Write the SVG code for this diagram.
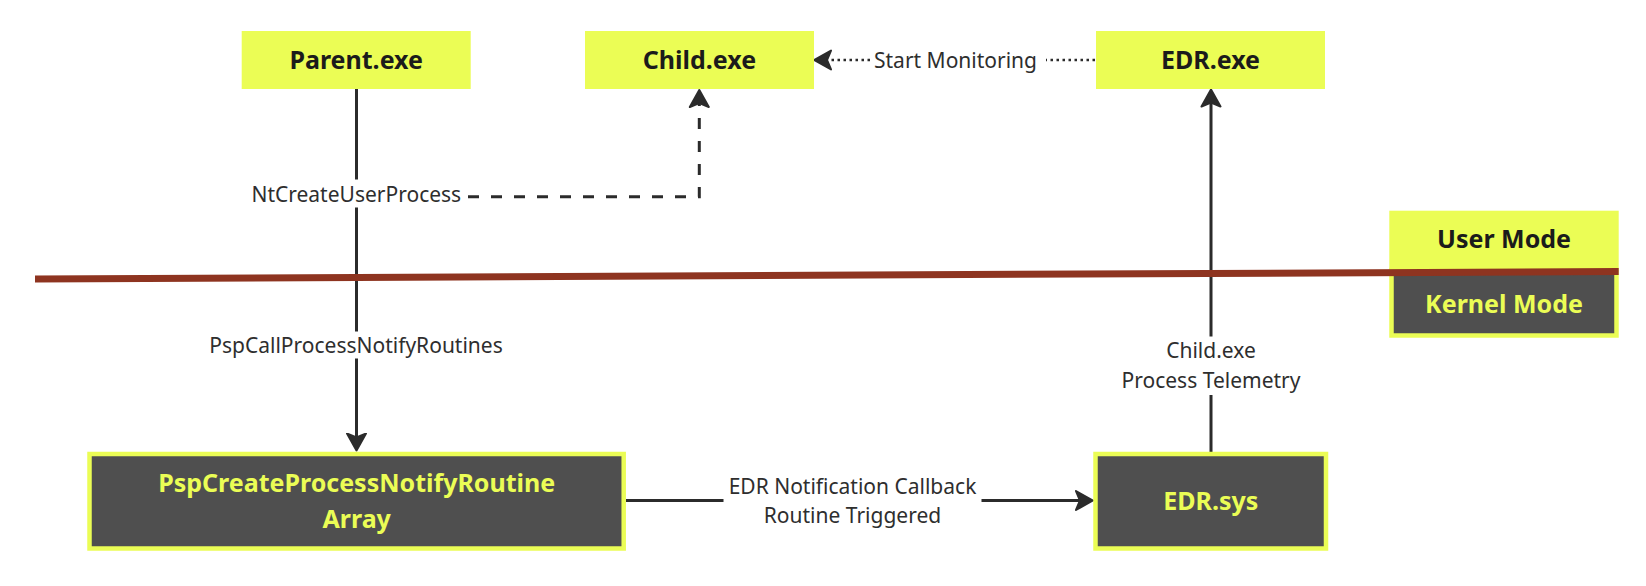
<svg xmlns="http://www.w3.org/2000/svg" width="1646" height="586" viewBox="0 0 1646 586">
  <defs>
    <style>
      .ybox { fill: #ebfd55; }
      .dbox { fill: #4f4f4f; stroke: #ebfd55; stroke-width: 4.5; }
      .tdark { font-family: "Noto Sans", "Open Sans", sans-serif; font-weight: 700; font-size: 25px; fill: #1b1b1b; text-anchor: middle; }
      .tlight { font-family: "Noto Sans", "Open Sans", sans-serif; font-weight: 700; font-size: 25px; fill: #ebfd55; text-anchor: middle; }
      .lbl { font-family: "Noto Sans", "Open Sans", sans-serif; font-size: 21px; fill: #2e2e2e; text-anchor: middle; }
      .edge { fill: none; stroke: #2b2b2b; stroke-width: 3; }
      .dash { stroke-dasharray: 11 12; }
      .dot { stroke-dasharray: 2.5 3.5; stroke-width: 2.5; }
    </style>
    <marker id="arr" markerUnits="userSpaceOnUse" viewBox="0 0 19 22" markerWidth="19" markerHeight="22" refX="8" refY="11" orient="auto">
      <path d="M1,1.5 L18,11 L1,20.5 L5,11 Z" fill="#2b2b2b" stroke="#2b2b2b" stroke-width="2" stroke-linejoin="round"/>
    </marker>
  </defs>

  <rect width="1646" height="586" fill="#ffffff"/>

  <g id="connectors">
    <path class="edge" d="M356.5,89 V179.5 M356.5,207.5 V331.5 M356.5,358.5 V440.5" marker-end="url(#arr)"/>
    <path class="edge dash" d="M468,196.7 H699.3 V100" marker-end="url(#arr)"/>
    <path class="edge dot" d="M1095,60 H1046 M870,60 H824" marker-end="url(#arr)"/>
    <path class="edge" d="M1211,452 V395 M1211,336.5 V99.5" marker-end="url(#arr)"/>
    <path class="edge" d="M626,500.5 H723.5 M981.5,500.5 H1083" marker-end="url(#arr)"/>
  </g>

  <g id="labels">
    <text class="lbl" x="356.3" y="201.7">NtCreateUserProcess</text>
    <text class="lbl" x="356" y="353.3">PspCallProcessNotifyRoutines</text>
    <text class="lbl" x="955.5" y="67.5">Start Monitoring</text>
    <text class="lbl" x="1211" y="358">Child.exe</text>
    <text class="lbl" x="1211" y="388">Process Telemetry</text>
    <text class="lbl" x="852.5" y="494">EDR Notification Callback</text>
    <text class="lbl" x="852.5" y="523.3">Routine Triggered</text>
  </g>

  <g id="parent-exe">
    <rect class="ybox" x="241.7" y="31" width="229" height="58"/>
    <text class="tdark" x="356.2" y="69">Parent.exe</text>
  </g>
  <g id="child-exe">
    <rect class="ybox" x="585" y="31" width="229" height="58"/>
    <text class="tdark" x="699.5" y="69">Child.exe</text>
  </g>
  <g id="edr-exe">
    <rect class="ybox" x="1096" y="31" width="229" height="58"/>
    <text class="tdark" x="1210.5" y="69">EDR.exe</text>
  </g>
  <g id="psp-array">
    <rect class="dbox" x="89.5" y="454" width="534.2" height="94.5"/>
    <text class="tlight" x="356.7" y="491.7">PspCreateProcessNotifyRoutine</text>
    <text class="tlight" x="356.7" y="528.3">Array</text>
  </g>
  <g id="edr-sys">
    <rect class="dbox" x="1095.5" y="454" width="230.5" height="94.5"/>
    <text class="tlight" x="1210.8" y="510">EDR.sys</text>
  </g>
  <g id="kernel-mode">
    <rect class="dbox" x="1391.5" y="270" width="225" height="65.5"/>
    <text class="tlight" x="1504" y="312.5">Kernel Mode</text>
  </g>
  <g id="user-mode">
    <rect class="ybox" x="1389.3" y="210.7" width="229.4" height="61"/>
    <text class="tdark" x="1504" y="248.3">User Mode</text>
  </g>

  <g id="boundary">
    <path d="M35,279 L1618.7,271.5" stroke="#8e3420" stroke-width="7" fill="none"/>
  </g>
</svg>
